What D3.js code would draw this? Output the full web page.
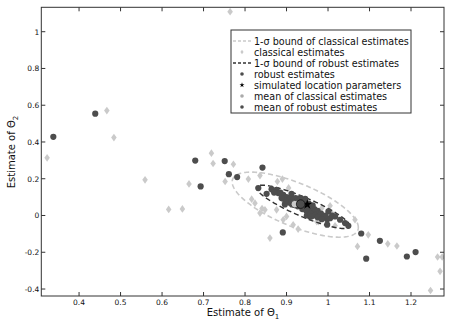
<!DOCTYPE html>
<html><head><meta charset="utf-8">
<script src="https://cdn.jsdelivr.net/npm/d3@7"></script>
<style>body{margin:0;background:#fff}svg{display:block}text{font-family:"DejaVu Sans",sans-serif}</style>
</head><body>
<script>
// ---- data ----
const xTicks = [0.4,0.5,0.6,0.7,0.8,0.9,1.0,1.1,1.2];
const yTicks = [-0.4,-0.2,0,0.2,0.4,0.6,0.8,1.0];
const xTickLabels = ["0.4","0.5","0.6","0.7","0.8","0.9","1","1.1","1.2"];
const yTickLabels = ["-0.4","-0.2","0","0.2","0.4","0.6","0.8","1"];
const classicalX = [0.323,0.467,0.484,0.559,0.616,0.649,0.665,0.719,0.723,0.752,0.772,0.764,0.808,0.836,0.890,0.816,0.841,0.836,0.860,0.892,0.916,0.928,0.973,1.005,1.017,1.065,1.071,1.097,1.144,1.166,1.264,1.275,1.270,1.247,0.878,0.876,0.900,0.824,0.848,0.977,1.009,0.892,0.905,0.955,0.985];
const classicalY = [0.314,0.571,0.424,0.194,0.033,0.036,0.172,0.339,0.283,0.185,0.279,1.109,0.198,0.217,0.198,0.089,0.038,0.013,-0.123,-0.023,-0.051,-0.074,-0.033,0.053,-0.056,-0.023,-0.168,-0.105,-0.154,-0.166,-0.226,-0.226,-0.304,-0.408,0.185,0.031,-0.005,0.067,0.031,-0.033,0.013,0.080,0.150,0.070,0.040];
const robustX = [0.338,0.439,0.680,0.693,0.751,0.761,0.781,0.842,0.891,1.080,1.125,1.092,1.190,1.211,
  0.832,0.852,0.864,0.876,0.880,0.892,0.900,0.912,0.945,0.896,1.001,1.017,0.998,0.998,1.029,1.041,1.049,0.981,0.949,0.957,
  0.900,0.905,0.910,0.915,0.918,0.920,0.922,0.925,0.928,0.930,0.932,0.935,0.937,0.940,0.942,0.945,0.947,0.950,0.952,0.955,0.957,0.960,0.962,0.965,0.967,0.970,0.972,0.975,0.977,0.980,0.983,0.986,0.990,0.994,
  0.908,0.913,0.927,0.938,0.948,0.958,0.968,0.963,0.953,0.943,0.933,0.897,0.888,0.960,0.975,0.985,1.005,1.010,0.870,0.885];
const robustY = [0.428,0.554,0.299,0.158,0.296,0.225,0.209,0.261,-0.092,-0.098,-0.138,-0.235,-0.223,-0.199,
  0.149,0.118,0.143,0.140,0.122,0.113,0.095,0.118,0.090,0.060,0.022,-0.005,-0.020,-0.050,-0.023,-0.041,-0.056,-0.005,0.000,-0.005,
  0.100,0.085,0.095,0.080,0.090,0.065,0.095,0.080,0.070,0.055,0.085,0.070,0.050,0.060,0.075,0.050,0.040,0.055,0.060,0.040,0.030,0.045,0.030,0.015,0.035,0.020,0.005,0.025,0.010,-0.005,0.010,0.000,-0.010,0.000,
  0.070,0.060,0.050,0.035,0.025,0.010,0.000,0.055,0.065,0.080,0.095,0.080,0.095,-0.005,-0.010,-0.020,-0.015,0.000,0.125,0.125];
const trueParam = [0.950, 0.060];
const meanClassical = [0.920, 0.062];
const meanRobust = [0.934, 0.062];
// 1-sigma ellipses: centre, sd x, sd y, correlation
const ellClassical = {cx:0.921, cy:0.059, sx:0.152, sy:0.177, rho:-0.70};
const ellRobust = {cx:0.940, cy:0.047, sx:0.1125, sy:0.118, rho:-0.88};
const legendLabels = ["1-\u03c3 bound of classical estimates","classical estimates","1-\u03c3 bound of robust estimates","robust estimates","simulated location parameters","mean of classical estimates","mean of robust estimates"];

// ---- drawing ----
const W=462,H=321;
const L=41.3,R=444,T=7.3,B=296;
const LIGHT="#cacaca", DARK="#4d4d4d";
const x=d3.scaleLinear().domain([0.309,1.2795]).range([L,R]);
const y=d3.scaleLinear().domain([-0.438,1.1328]).range([B,T]);
const svg=d3.select("body").append("svg").attr("width",W).attr("height",H);
svg.append("defs").append("clipPath").attr("id","c").append("rect").attr("x",L).attr("y",T).attr("width",R-L).attr("height",B-T);
const g=svg.append("g").attr("clip-path","url(#c)");

function ellipsePts(e){
  const a=e.sx, c=e.rho*e.sy, d=e.sy*Math.sqrt(1-e.rho*e.rho);
  const pts=[];
  for(let i=0;i<=200;i++){const t=2*Math.PI*i/200;pts.push([e.cx+a*Math.cos(t), e.cy+c*Math.cos(t)+d*Math.sin(t)]);}
  return pts;
}
const line=d3.line().x(p=>x(p[0])).y(p=>y(p[1]));
const diamond=d3.symbol().type(d3.symbolDiamond).size(17);

g.append("path").attr("d",line(ellipsePts(ellClassical))).attr("fill","none").attr("stroke",LIGHT).attr("stroke-width",1.6).attr("stroke-dasharray","5,3");
g.selectAll(".cl").data(d3.range(classicalX.length)).join("path")
  .attr("d",diamond).attr("transform",i=>`translate(${x(classicalX[i])},${y(classicalY[i])}) scale(1.25,1)`).attr("fill",LIGHT);
g.append("path").attr("d",line(ellipsePts(ellRobust))).attr("fill","none").attr("stroke","#333").attr("stroke-width",1.4).attr("stroke-dasharray","5,3");
g.selectAll(".rb").data(d3.range(robustX.length)).join("circle")
  .attr("cx",i=>x(robustX[i])).attr("cy",i=>y(robustY[i])).attr("r",3.1).attr("fill",DARK);
const star=d3.symbol().type(d3.symbolStar).size(30);
g.append("path").attr("d",star).attr("transform",`translate(${x(trueParam[0])},${y(trueParam[1])})`).attr("fill","#000");
g.append("circle").attr("cx",x(meanClassical[0])).attr("cy",y(meanClassical[1])).attr("r",3.8).attr("fill",LIGHT).attr("stroke","#333").attr("stroke-width",0.8);
g.append("circle").attr("cx",x(meanRobust[0])).attr("cy",y(meanRobust[1])).attr("r",4.3).attr("fill",DARK).attr("stroke","#111").attr("stroke-width",0.8);

// axes box + ticks
const ax=svg.append("g");
ax.append("rect").attr("x",L).attr("y",T).attr("width",R-L).attr("height",B-T).attr("fill","none").attr("stroke","#333").attr("stroke-width",1);
xTicks.forEach((v,i)=>{
  ax.append("line").attr("x1",x(v)).attr("x2",x(v)).attr("y1",B).attr("y2",B-4).attr("stroke","#333");
  ax.append("line").attr("x1",x(v)).attr("x2",x(v)).attr("y1",T).attr("y2",T+4).attr("stroke","#333");
  ax.append("text").attr("x",x(v)).attr("y",B+9).attr("text-anchor","middle").attr("font-size",7.5).attr("fill","#111").text(xTickLabels[i]);
});
yTicks.forEach((v,i)=>{
  ax.append("line").attr("x1",L).attr("x2",L+4).attr("y1",y(v)).attr("y2",y(v)).attr("stroke","#333");
  ax.append("line").attr("x1",R).attr("x2",R-4).attr("y1",y(v)).attr("y2",y(v)).attr("stroke","#333");
  ax.append("text").attr("x",L-2).attr("y",y(v)+3).attr("text-anchor","end").attr("font-size",7.5).attr("fill","#111").text(yTickLabels[i]);
});
const xl=svg.append("text").attr("x",243).attr("y",316).attr("text-anchor","middle").attr("font-size",10).attr("fill","#111");
xl.append("tspan").text("Estimate of \u0398");
xl.append("tspan").attr("font-size",7).attr("dy",3).text("1");
const yl=svg.append("text").attr("transform","translate(15,152) rotate(-90)").attr("text-anchor","middle").attr("font-size",10).attr("fill","#111");
yl.append("tspan").text("Estimate of \u0398");
yl.append("tspan").attr("font-size",7).attr("dy",3).text("2");

// legend
const lg=svg.append("g");
lg.append("rect").attr("x",231).attr("y",30).attr("width",180).attr("height",83).attr("fill","#fff").attr("stroke","#333");
legendLabels.forEach((t,i)=>{
  const yy=41+11*i;
  if(i===0||i===2){
    lg.append("line").attr("x1",233).attr("x2",252).attr("y1",yy).attr("y2",yy).attr("stroke",i===0?LIGHT:"#333").attr("stroke-width",1.3).attr("stroke-dasharray","3,2");
  } else if(i===1){
    lg.append("path").attr("d",d3.symbol().type(d3.symbolDiamond).size(6)).attr("transform",`translate(242,${yy}) scale(1.2,1)`).attr("fill",LIGHT);
  } else if(i===3){
    lg.append("circle").attr("cx",242).attr("cy",yy).attr("r",1.8).attr("fill",DARK);
  } else if(i===4){
    lg.append("path").attr("d",d3.symbol().type(d3.symbolStar).size(8)).attr("transform",`translate(242,${yy})`).attr("fill","#000");
  } else if(i===5){
    lg.append("circle").attr("cx",242).attr("cy",yy).attr("r",1.8).attr("fill","#aaa");
  } else {
    lg.append("circle").attr("cx",242).attr("cy",yy).attr("r",1.8).attr("fill",DARK);
  }
  lg.append("text").attr("x",254).attr("y",yy+3.5).attr("font-size",9.6).attr("fill","#111").text(t);
});
</script>
</body></html>
